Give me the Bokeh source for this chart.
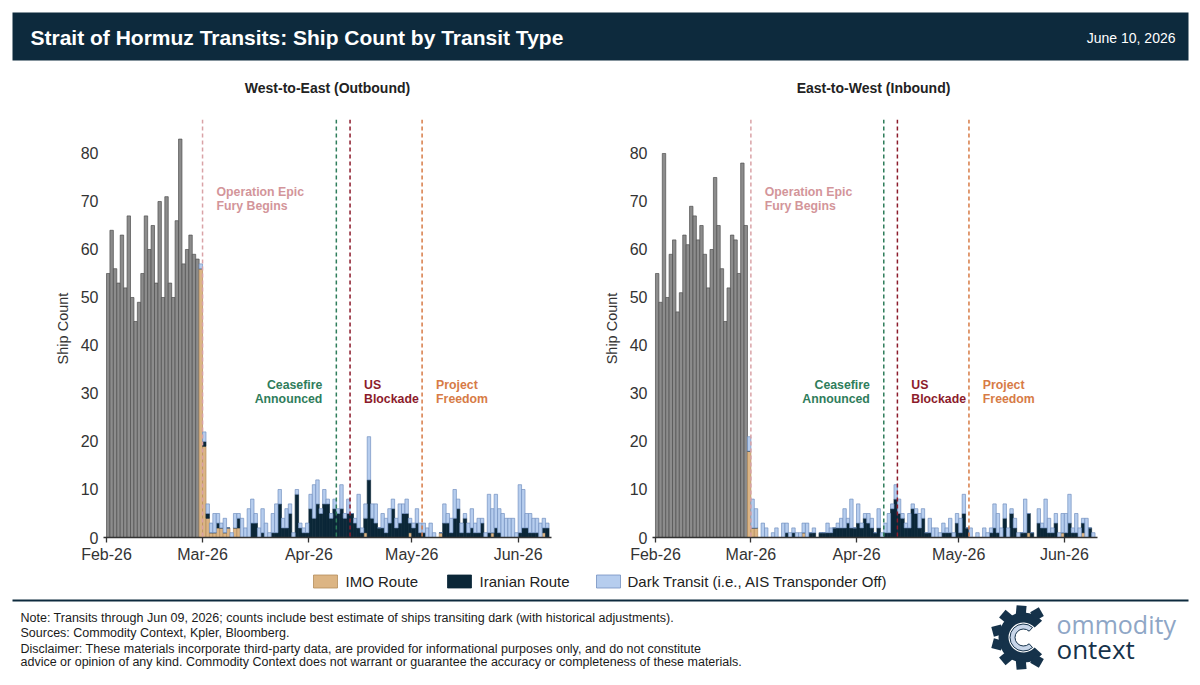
import numpy as np
import pandas as pd
from bokeh.plotting import figure
from bokeh.models import Range1d, ColumnDataSource, Span, FixedTicker, DatetimeTickFormatter
from bokeh.layouts import column, row
from bokeh.embed import file_html
from bokeh.resources import INLINE
from bokeh.core.properties import value

# ---------------- DATA ----------------
TITLE = "Strait of Hormuz Transits: Ship Count by Transit Type"
DATE_TEXT = "June 10, 2026"
panel_titles = ["West-to-East (Outbound)", "East-to-West (Inbound)"]

prewar_start = "2026-02-01"   # grey bars: pre-conflict total ship count
prewar_out = [55, 64, 56, 53, 63, 52, 67, 50, 45, 49, 55, 67, 60, 65, 53, 70, 50, 71,
              53, 50, 66, 83, 57, 60, 63, 59, 58]
prewar_in = [55, 49, 80, 50, 59, 62, 47, 51, 63, 61, 69, 67, 62, 65, 59, 52, 60, 75,
             65, 56, 45, 52, 63, 62, 55, 78, 65]

post_start = "2026-02-28"     # stacked bars: Feb 28 .. Jun 09
imo_out = [56, 19, 4, 1, 1, 2, 2, 1, 2, 0, 2, 2, 0, 0, 0, 0, 0, 0, 0, 0,
           0, 0, 0, 0, 0, 0, 0, 0, 0, 0, 0, 0, 0, 0, 0, 0, 0, 0, 0, 0,
           0, 0, 0, 0, 0, 0, 0, 0, 1, 0, 0, 0, 0, 0, 0, 0, 0, 0, 0, 0,
           0, 1, 0, 0, 0, 0, 0, 0, 0, 0, 1, 0, 0, 0, 0, 0, 0, 0, 0, 0,
           0, 0, 0, 0, 0, 1, 0, 0, 0, 0, 0, 0, 0, 0, 0, 0, 0, 0, 0, 0,
           1, 0]
iran_out = [0, 1, 1, 0, 0, 1, 0, 0, 0, 0, 0, 2, 0, 0, 0, 3, 3, 0, 1, 0,
            0, 1, 1, 7, 2, 2, 5, 0, 9, 2, 1, 1, 6, 4, 7, 5, 7, 7, 4, 6,
            5, 6, 4, 5, 5, 3, 2, 1, 3, 12, 4, 3, 2, 2, 1, 3, 6, 2, 3, 5,
            5, 2, 2, 3, 1, 1, 0, 0, 0, 0, 0, 3, 3, 1, 4, 6, 1, 4, 1, 2,
            1, 1, 3, 0, 1, 0, 2, 1, 0, 0, 0, 0, 0, 1, 2, 2, 1, 1, 1, 0,
            1, 2]
dark_out = [1, 2, 2, 2, 4, 2, 1, 3, 0, 1, 3, 1, 4, 2, 6, 5, 2, 2, 5, 3,
            1, 4, 6, 3, 2, 4, 2, 1, 1, 1, 1, 2, 3, 7, 5, 1, 3, 1, 1, 2,
            1, 5, 1, 3, 0, 1, 7, 1, 3, 9, 3, 4, 0, 3, 3, 3, 2, 2, 4, 2,
            3, 1, 1, 3, 2, 2, 2, 3, 1, 0, 0, 4, 2, 3, 6, 2, 2, 1, 2, 4,
            2, 3, 1, 1, 8, 5, 7, 5, 5, 4, 4, 4, 1, 10, 8, 3, 4, 3, 3, 3,
            2, 1]

imo_in = [18, 2, 2, 0, 0, 0, 0, 0, 0, 0, 0, 0, 0, 0, 0, 0, 1, 0, 0, 0,
          0, 0, 0, 0, 0, 0, 0, 0, 0, 0, 0, 0, 0, 0, 0, 0, 0, 0, 0, 0,
          0, 0, 0, 0, 0, 0, 0, 0, 0, 0, 0, 0, 0, 0, 0, 0, 0, 0, 0, 0,
          0, 0, 0, 0, 0, 0, 0, 0, 0, 0, 0, 0, 0, 0, 0, 0, 0, 0, 0, 0,
          0, 0, 1, 0, 0, 0, 0, 0, 0, 0, 0, 0, 1, 0, 0, 0, 0, 0, 1, 0,
          0, 0]
iran_in = [0, 0, 0, 0, 0, 0, 0, 0, 0, 0, 0, 1, 0, 1, 0, 0, 0, 0, 1, 1,
           0, 1, 1, 1, 1, 2, 2, 2, 2, 3, 2, 2, 3, 2, 4, 3, 2, 1, 2, 0,
           1, 1, 6, 8, 5, 4, 2, 2, 6, 5, 2, 4, 1, 1, 0, 0, 0, 1, 1, 1,
           0, 3, 1, 5, 2, 0, 0, 0, 0, 0, 0, 1, 2, 1, 0, 4, 0, 5, 2, 0,
           1, 1, 4, 1, 0, 3, 2, 2, 1, 1, 3, 0, 0, 1, 3, 1, 1, 0, 2, 0,
           2, 0]
dark_in = [3, 6, 4, 0, 3, 2, 0, 1, 2, 0, 3, 2, 1, 1, 1, 1, 2, 3, 0, 1,
           0, 0, 0, 2, 1, 0, 1, 2, 4, 1, 6, 0, 4, 1, 1, 2, 2, 0, 4, 1,
           2, 4, 1, 3, 3, 1, 1, 3, 1, 1, 3, 2, 0, 3, 2, 2, 1, 2, 1, 3,
           1, 2, 3, 4, 0, 2, 0, 1, 0, 2, 1, 1, 5, 4, 2, 3, 2, 1, 2, 1,
           0, 7, 0, 0, 0, 3, 1, 6, 3, 1, 2, 1, 4, 4, 6, 1, 4, 2, 1, 4,
           0, 1]

series_names = ["IMO Route", "Iranian Route", "Dark Transit (i.e., AIS Transponder Off)"]

event_dates = ["2026-03-01", "2026-04-09", "2026-04-13", "2026-05-04"]
event_lines = [["Operation Epic", "Fury Begins"], ["Ceasefire", "Announced"],
               ["US", "Blockade"], ["Project", "Freedom"]]
event_side = ["right", "left", "right", "right"]
event_text_top = [71.9, 31.7, 31.7, 31.7]

month_ticks = ["2026-02-01", "2026-03-01", "2026-04-01", "2026-05-01", "2026-06-01"]
y_ticks = [0, 10, 20, 30, 40, 50, 60, 70, 80]

footer_lines = [
    "Note: Transits through Jun 09, 2026; counts include best estimate of ships transiting dark (with historical adjustments).",
    "Sources: Commodity Context, Kpler, Bloomberg.",
    "Disclaimer: These materials incorporate third-party data, are provided for informational purposes only, and do not constitute",
    "advice or opinion of any kind. Commodity Context does not warrant or guarantee the accuracy or completeness of these materials.",
]

# ---------------- STYLE ----------------
FONT = "Liberation Sans"
NAVY = "#0d2a3d"
GRAY, GRAY_EDGE = "#8c8c8c", "#4f4f4f"
FILLS = ["#dcb584", "#0b2738", "#b6cdee"]
EDGES = ["#b48d5c", "#0b2738", "#7391c0"]
EVENT_LINE_COLORS = ["#d9a2a6", "#2f7d5b", "#8c1b2b", "#d77b46"]
EVENT_TEXT_COLORS = ["#d3959a", "#2f7d5b", "#8c1b2b", "#d77b46"]
TEXT_DARK = "#333333"

DAY = 86400000.0


def ms(s):
    return pd.Timestamp(s).value / 1e6


X_START = ms(prewar_start) - 0.875 * DAY
X_END = X_START + 130.6 * DAY
Y_END = 87.08


def blank(w, h):
    p = figure(width=w, height=h, x_range=Range1d(0, w), y_range=Range1d(h, 0),
               toolbar_location=None, output_backend="svg",
               x_axis_location=None, y_axis_location=None, min_border=0)
    p.grid.visible = False
    p.outline_line_color = None
    return p


def panel(pre, imo, iran, dark, w, bl, br):
    p = figure(width=w, height=458, x_axis_type="datetime",
               x_range=Range1d(X_START, X_END), y_range=Range1d(0, Y_END),
               toolbar_location=None, output_backend="svg",
               min_border_left=bl, min_border_right=br, min_border_top=9, min_border_bottom=31)
    p.outline_line_color = None
    p.grid.visible = False

    pre_x = pd.date_range(prewar_start, periods=len(pre), freq="D") + pd.Timedelta(hours=12)
    post_x = pd.date_range(post_start, periods=len(imo), freq="D") + pd.Timedelta(hours=12)
    p.vbar(x="x", top="top", width=DAY, source=ColumnDataSource(dict(x=pre_x, top=pre)),
           fill_color=GRAY, line_color=GRAY_EDGE, line_width=0.7)
    src = ColumnDataSource(dict(x=post_x, imo=imo, iran=iran, dark=dark))
    p.vbar_stack(["imo", "iran", "dark"], x="x", width=DAY, source=src,
                 fill_color=FILLS, line_color=EDGES, line_width=0.7)

    off = 4.08 * DAY
    step = 2.77
    for d, lines, side, top, lc, tc in zip(event_dates, event_lines, event_side,
                                            event_text_top, EVENT_LINE_COLORS, EVENT_TEXT_COLORS):
        loc = ms(d)
        p.add_layout(Span(location=loc, dimension="height", line_color=lc,
                          line_width=1.5, line_dash="4 3"))
        tx = loc + off if side == "right" else loc - off
        p.text(x=[tx, tx], y=[top, top - step], text=lines,
               text_font=value(FONT), text_font_size="12.3px", text_font_style="bold",
               text_color=tc, text_align="left" if side == "right" else "right",
               text_baseline="middle")

    xa = p.xaxis[0]
    xa.ticker = FixedTicker(ticks=[ms(t) for t in month_ticks])
    xa.formatter = DatetimeTickFormatter(days="%b-%y", months="%b-%y", years="%b-%y",
                                         hours="%b-%y", minutes="%b-%y")
    xa.axis_line_color = TEXT_DARK
    xa.axis_line_width = 1.3
    xa.major_tick_line_color = TEXT_DARK
    xa.major_tick_line_width = 1.3
    xa.major_tick_out = 5
    xa.major_tick_in = 0
    xa.minor_tick_line_color = None
    xa.major_label_standoff = 3
    xa.major_label_text_font = FONT
    xa.major_label_text_font_size = "16px"
    xa.major_label_text_color = TEXT_DARK

    ya = p.yaxis[0]
    ya.ticker = FixedTicker(ticks=y_ticks)
    ya.axis_line_color = None
    ya.major_tick_line_color = None
    ya.minor_tick_line_color = None
    ya.major_tick_out = 0
    ya.major_tick_in = 0
    ya.major_label_standoff = 5
    ya.major_label_text_font = FONT
    ya.major_label_text_font_size = "16px"
    ya.major_label_text_color = TEXT_DARK
    ya.axis_label = "Ship Count"
    ya.axis_label_text_font = FONT
    ya.axis_label_text_font_size = "14.5px"
    ya.axis_label_text_font_style = "normal"
    ya.axis_label_text_color = TEXT_DARK
    ya.axis_label_standoff = 7
    return p


W = 1196
# header + panel titles
head = blank(W, 110)
head.quad(left=[12], right=[1188], top=[12], bottom=[60], fill_color=NAVY, line_color=None)
head.text(x=[30], y=[37], text=[TITLE], text_font=value(FONT), text_font_size="21px",
          text_font_style="bold", text_color="white", text_baseline="middle", text_align="left")
head.text(x=[1175], y=[37], text=[DATE_TEXT], text_font=value(FONT), text_font_size="14px",
          text_color="white", text_baseline="middle", text_align="right")
head.text(x=[327, 873], y=[87, 87], text=panel_titles, text_font=value(FONT),
          text_font_size="14px", text_font_style="bold", text_color="#222222",
          text_baseline="middle", text_align="center")

left = panel(prewar_out, imo_out, iran_out, dark_out, 600, 103, 49)
right = panel(prewar_in, imo_in, iran_in, dark_in, 596, 49, 99)

# legend strip
leg = blank(W, 30)
sw_x = [313, 447, 596]
tx_x = [345, 479, 627]
leg.rect(x=[x + 12 for x in sw_x], y=[13, 13, 13], width=24, height=13,
         fill_color=FILLS, line_color=EDGES, line_width=0.8)
leg.text(x=tx_x, y=[13, 13, 13], text=series_names, text_font=value(FONT),
         text_font_size="15px", text_color="#222222", text_baseline="middle", text_align="left")

# footer
foot = blank(W, 82)
foot.line(x=[12, 1188], y=[2, 2], line_color=NAVY, line_width=2)
foot.text(x=[20] * 4, y=[19, 34, 50, 63], text=footer_lines, text_font=value(FONT),
          text_font_size="12.5px", text_color="#1a1a1a", text_baseline="middle", text_align="left")
# logo
cx, cy = 1023, 39
foot.annular_wedge(x=[cx], y=[cy], inner_radius=15, outer_radius=25,
                   start_angle=np.radians(42), end_angle=np.radians(318),
                   fill_color="#15324a", line_color=None)
ang = np.radians([60, 95, 130, 165, 195, 230, 265, 300])
foot.rect(x=cx + 27 * np.cos(ang), y=cy + 27 * np.sin(ang), width=10, height=10,
          angle=ang, fill_color="#15324a", line_color=None)
foot.annular_wedge(x=[cx], y=[cy], inner_radius=8.5, outer_radius=13.5,
                   start_angle=np.radians(48), end_angle=np.radians(312),
                   fill_color="#c8d6e9", line_color="#15324a", line_width=1)
foot.text(x=[1056], y=[25], text=["ommodity"], text_font=value("Open Sans"),
          text_font_size="25px", text_color="#8ea6c6", text_baseline="middle", text_align="left")
foot.text(x=[1056], y=[50], text=["ontext"], text_font=value("Open Sans"),
          text_font_size="26px", text_color="#15324a", text_baseline="middle", text_align="left")

layout = column(head, row(left, right), leg, foot)

open("out.html", "w").write(file_html(layout, INLINE))
